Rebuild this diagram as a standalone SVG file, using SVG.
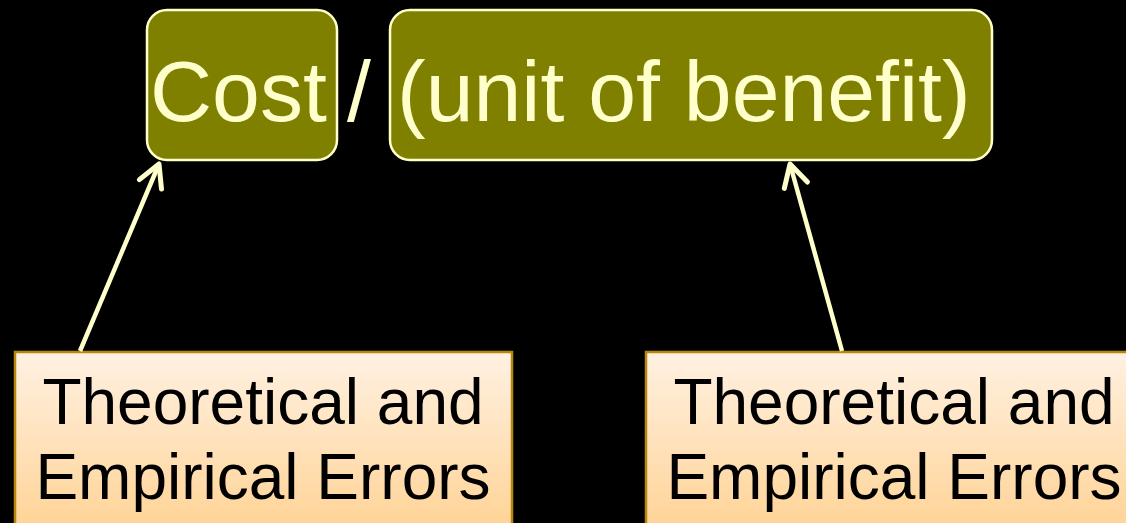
<svg xmlns="http://www.w3.org/2000/svg" width="1126" height="523" viewBox="0 0 1126 523">
  <style>
    .top { fill: #808000; stroke: #FFFFCC; stroke-width: 2.5; }
    .toptext { font-family: "Liberation Sans", Arial, sans-serif; font-size: 86px; fill: #FFFFCC; }
    .bot { fill: url(#g); stroke: #B8860B; stroke-width: 2.5; }
    .bottext { font-family: "Liberation Sans", Arial, sans-serif; font-size: 64px; fill: #000; text-anchor: middle; }
    .conn { stroke: #FFFFCC; stroke-width: 4.5; fill: none; marker-end: url(#arr); }
  </style>
  <defs>
    <linearGradient id="g" x1="0" y1="0" x2="0" y2="1">
      <stop offset="0" stop-color="#FFF1E2"/>
      <stop offset="1" stop-color="#FFD190"/>
    </linearGradient>
    <marker id="arr" markerUnits="userSpaceOnUse" viewBox="-28 -18 32 36" markerWidth="32" markerHeight="36" refX="0" refY="0" orient="auto">
      <path d="M-22,-12 L0,0 L-22,12" fill="none" stroke="#FFFFCC" stroke-width="5" stroke-linecap="round" stroke-linejoin="round"/>
    </marker>
  </defs>
  <rect width="1126" height="523" fill="#000"/>

  <g id="cost">
    <rect class="top" x="147" y="10" width="190" height="150" rx="20"/>
    <text class="toptext" x="150" y="121">Cost</text>
  </g>
  <text class="toptext" x="347" y="121">/</text>
  <g id="benefit">
    <rect class="top" x="390" y="10" width="602" height="150" rx="20"/>
    <text class="toptext" x="397" y="121">(unit of benefit)</text>
  </g>

  <g id="errors-left">
    <rect class="bot" x="15" y="352" width="497" height="190"/>
    <text class="bottext" x="263" y="424">Theoretical and</text>
    <text class="bottext" x="263" y="499">Empirical Errors</text>
  </g>
  <g id="errors-right">
    <rect class="bot" x="646" y="352" width="496" height="190"/>
    <text class="bottext" x="894" y="424">Theoretical and</text>
    <text class="bottext" x="894" y="499">Empirical Errors</text>
  </g>

  <g id="connectors">
    <line class="conn" x1="80" y1="351" x2="159" y2="164"/>
    <line class="conn" x1="842" y1="351" x2="790" y2="164"/>
  </g>
</svg>
